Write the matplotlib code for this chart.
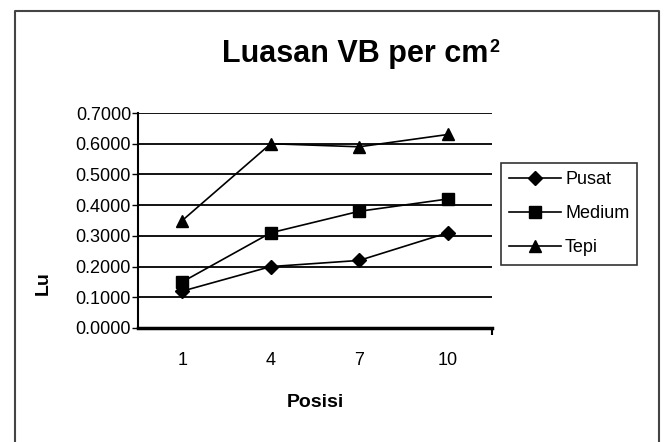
import matplotlib.pyplot as plt
from matplotlib.lines import Line2D

# data
posisi = ['1', '4', '7', '10']
pusat = [0.12, 0.20, 0.22, 0.31]
medium = [0.15, 0.31, 0.38, 0.42]
tepi = [0.35, 0.60, 0.59, 0.63]
y_ticks = [0.0, 0.1, 0.2, 0.3, 0.4, 0.5, 0.6, 0.7]

W, H = 664, 442
fig = plt.figure(figsize=(W / 100, H / 100), dpi=100)
plt.rcParams['font.family'] = ['Liberation Sans', 'DejaVu Sans']

# outer frame (left, top, right)
fx = lambda px: px / W
fy = lambda py: 1 - py / H
fig.add_artist(Line2D([fx(15), fx(15), fx(659), fx(659)],
                      [fy(442), fy(11), fy(11), fy(442)],
                      color='#444444', lw=1.5, transform=fig.transFigure))

ax = fig.add_axes([138 / W, 1 - 328 / H, (492 - 138) / W, (328 - 113) / H])
x = range(len(posisi))
ax.plot(x, pusat, color='black', lw=1.2, marker='D', ms=7, label='Pusat')
ax.plot(x, medium, color='black', lw=1.2, marker='s', ms=8, label='Medium')
ax.plot(x, tepi, color='black', lw=1.2, marker='^', ms=9, label='Tepi')

ax.set_xlim(-0.5, len(posisi) - 0.5)
ax.set_ylim(0, 0.7)
ax.set_yticks(y_ticks)
ax.set_yticklabels(['%.4f' % v for v in y_ticks], fontsize=13)
ax.set_xticks(list(x))
ax.set_xticklabels(posisi, fontsize=13)
ax.tick_params(axis='x', length=0, pad=17)
ax.tick_params(axis='y', length=4, width=1, pad=1)
ax.set_xticks([len(posisi) - 0.5], minor=True)
ax.tick_params(axis='x', which='minor', length=5, width=1.5)

ax.grid(axis='y', color='black', lw=1.3)
ax.set_axisbelow(True)
for s in ['top', 'right']:
    ax.spines[s].set_visible(False)
ax.spines['bottom'].set_linewidth(2.5)
ax.spines['left'].set_linewidth(1.5)

ax.set_xlabel('Posisi', fontsize=14, fontweight='bold', labelpad=18)
ax.set_ylabel('Lu', fontsize=14, fontweight='bold')
ax.yaxis.set_label_coords(-0.245, 0.21)

# title, with a small raised "2" right after "cm"
title = fig.text(355 / W, fy(54), 'Luasan VB per cm', fontsize=22,
                 fontweight='bold', ha='center', va='center')
ax.annotate('2', xy=(1, 1), xycoords=title, xytext=(1, 0),
            textcoords='offset points', fontsize=13, fontweight='bold',
            ha='left', va='top', annotation_clip=False)

leg = fig.legend(loc='upper left', bbox_to_anchor=(501 / W, fy(163)),
                 fontsize=13, frameon=True, fancybox=False, handlelength=2.9,
                 borderpad=0.45, labelspacing=0.95, handletextpad=0.2,
                 borderaxespad=0)
leg.get_frame().set_edgecolor('black')
leg.get_frame().set_linewidth(1.2)

fig.savefig('out.png', dpi=100)
